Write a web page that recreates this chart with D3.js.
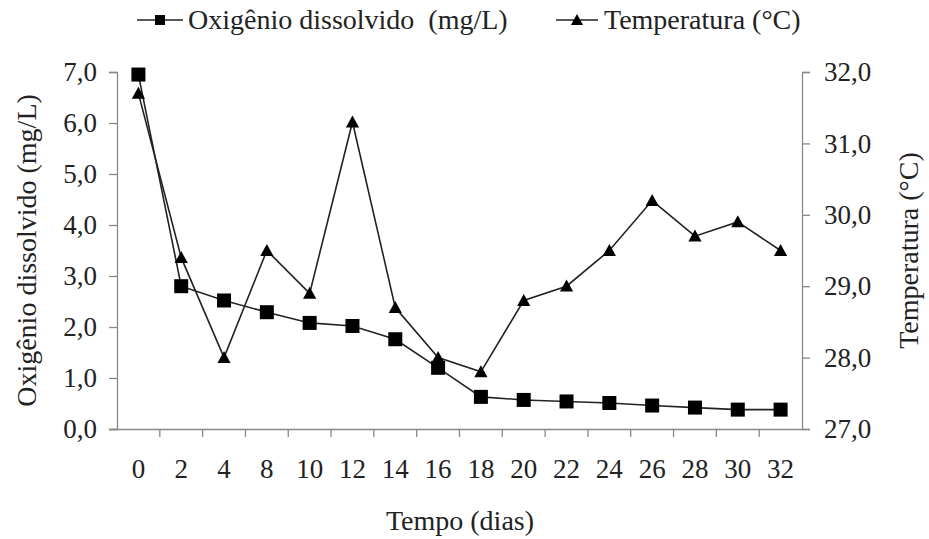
<!DOCTYPE html>
<html>
<head>
<meta charset="utf-8">
<script src="https://cdn.jsdelivr.net/npm/d3@7"></script>
<style>
  body { margin: 0; background: #fff; }
  svg text { font-family: "Times New Roman", "Liberation Serif", Tinos, "DejaVu Serif", serif !important; fill: #222; }
</style>
</head>
<body>
<svg id="chart" width="929" height="539"></svg>
<script>
const days = ["0","2","4","8","10","12","14","16","18","20","22","24","26","28","30","32"];
const oxygen = [6.95, 2.80, 2.52, 2.29, 2.08, 2.02, 1.76, 1.20, 0.63, 0.57, 0.54, 0.51, 0.46, 0.42, 0.38, 0.38];
const temperature = [31.7, 29.4, 28.0, 29.5, 28.9, 31.3, 28.7, 28.0, 27.8, 28.8, 29.0, 29.5, 30.2, 29.7, 29.9, 29.5];
const leftTicks = [0,1,2,3,4,5,6,7];
const rightTicks = [27,28,29,30,31,32];
const seriesNames = ["Oxigênio dissolvido  (mg/L)", "Temperatura (°C)"];

const FONT = '"Times New Roman", "Liberation Serif", Tinos, "DejaVu Serif", serif';
const svg = d3.select("#chart");
const L = 117, R = 802, T = 72, B = 429;
const axisColor = "#888";
const fmt = v => d3.format(".1f")(v).replace(".", ",");

const x = d3.scaleBand().domain(days).range([L, R]).paddingInner(0).paddingOuter(0);
const yL = d3.scaleLinear().domain([0, 7]).range([B, T]);
const yR = d3.scaleLinear().domain([27, 32]).range([B, T]);

const gL = svg.append("g").attr("transform", `translate(${L},0)`)
  .call(d3.axisLeft(yL).tickValues(leftTicks).tickSize(8).tickPadding(12).tickFormat(fmt));
const gR = svg.append("g").attr("transform", `translate(${R},0)`)
  .call(d3.axisRight(yR).tickValues(rightTicks).tickSize(8).tickPadding(14).tickFormat(fmt));
const gB = svg.append("g").attr("transform", `translate(0,${B})`)
  .call(d3.axisBottom(x).tickSize(0).tickPadding(30));
[gL, gR, gB].forEach(g => {
  g.attr("font-family", FONT);
  g.selectAll(".domain").attr("stroke", axisColor).attr("stroke-width", 1.3);
  g.selectAll(".tick line").attr("stroke", axisColor).attr("stroke-width", 1.3);
  g.selectAll("text").attr("font-size", 27).attr("fill", "#222");
});
gB.select(".domain").attr("d", `M${L - 8},0.5H${R}`);
const bounds = days.map(d => x(d)).concat([R]);
svg.append("g").selectAll("line").data(bounds.slice(1, -1)).join("line")
  .attr("x1", d => d).attr("x2", d => d).attr("y1", B).attr("y2", B + 8)
  .attr("stroke", axisColor).attr("stroke-width", 1.3);

const cx = d => x(d) + x.bandwidth() / 2;

svg.append("path").datum(days.map((d, i) => [cx(d), yL(oxygen[i])]))
  .attr("d", d3.line()).attr("fill", "none").attr("stroke", "#222").attr("stroke-width", 1.6);
svg.append("path").datum(days.map((d, i) => [cx(d), yR(temperature[i])]))
  .attr("d", d3.line()).attr("fill", "none").attr("stroke", "#222").attr("stroke-width", 1.6);

const sq = 14;
const triPath = (s) => `M0,${-s * 0.55}L${s * 0.55},${s * 0.45}L${-s * 0.55},${s * 0.45}Z`;
svg.append("g").selectAll("rect").data(days).join("rect")
  .attr("x", d => cx(d) - sq / 2).attr("y", (d, i) => yL(oxygen[i]) - sq / 2)
  .attr("width", sq).attr("height", sq).attr("fill", "#000");
svg.append("g").selectAll("path").data(days).join("path")
  .attr("transform", (d, i) => `translate(${cx(d)},${yR(temperature[i])})`)
  .attr("d", triPath(12)).attr("fill", "#000");

const txt = svg.append("g").attr("font-family", FONT).attr("font-size", 28);
txt.append("text").attr("transform", `translate(36,${(T + B) / 2}) rotate(-90)`)
  .attr("text-anchor", "middle").text("Oxigênio dissolvido (mg/L)");
txt.append("text").attr("transform", `translate(918,${(T + B) / 2}) rotate(-90)`)
  .attr("text-anchor", "middle").text("Temperatura (°C)");
txt.append("text").attr("x", 460).attr("y", 530)
  .attr("text-anchor", "middle").text("Tempo (dias)");

const lg = svg.append("g").attr("font-family", FONT).attr("font-size", 28);
const ly = 20;
lg.append("line").attr("x1", 137).attr("x2", 183).attr("y1", ly).attr("y2", ly).attr("stroke", "#222").attr("stroke-width", 1.6);
lg.append("rect").attr("x", 160 - 5).attr("y", ly - 5).attr("width", 10).attr("height", 10).attr("fill", "#000");
lg.append("text").attr("x", 188).attr("y", ly + 9).attr("xml:space", "preserve").style("white-space", "pre").text(seriesNames[0]);
lg.append("line").attr("x1", 556).attr("x2", 598).attr("y1", ly).attr("y2", ly).attr("stroke", "#222").attr("stroke-width", 1.6);
lg.append("path").attr("transform", `translate(577,${ly})`).attr("d", triPath(11)).attr("fill", "#000");
lg.append("text").attr("x", 604).attr("y", ly + 9).text(seriesNames[1]);
</script>
</body>
</html>
